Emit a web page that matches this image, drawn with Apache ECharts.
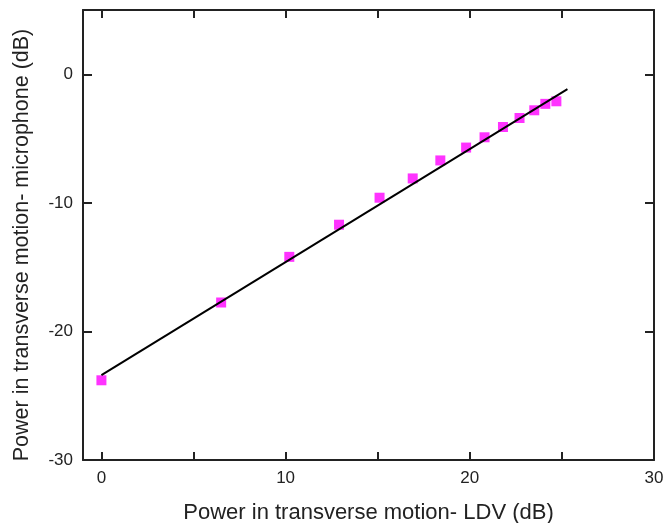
<!DOCTYPE html>
<html>
<head>
<meta charset="utf-8">
<script src="https://cdn.jsdelivr.net/npm/echarts@6/dist/echarts.min.js"></script>
</head>
<body style="margin:0">
<div id="main" style="width:665px;height:523px"></div>
<script>
// measured points (LDV dB, microphone dB)
var ldv = [0, 6.5, 10.2, 12.9, 15.1, 16.9, 18.4, 19.8, 20.8, 21.8, 22.7, 23.5, 24.1, 24.7];
var mic = [-23.8, -17.75, -14.2, -11.7, -9.6, -8.1, -6.7, -5.7, -4.9, -4.1, -3.4, -2.8, -2.3, -2.1];
// linear fit end points
var fitX = [0, 25.3];
var fitY = [-23.4, -1.16];
var xTicks = [0, 5, 10, 15, 20, 25, 30];
var xLabels = [0, 10, 20, 30];
var yTicks = [-30, -20, -10, 0];

var pts = ldv.map(function (v, i) { return [v, mic[i]]; });
var fit = fitX.map(function (v, i) { return [v, fitY[i]]; });

var chart = echarts.init(document.getElementById('main'));
var lineStyle = { color: '#222', width: 2 };
var font = 'Liberation Sans';

chart.setOption({
  animation: false,
  grid: { left: 83, right: 11, top: 10, bottom: 63, containLabel: false, outerBoundsMode: 'none' },
  xAxis: [{
    type: 'value', min: -1, max: 30,
    name: 'Power in transverse motion- LDV (dB)',
    nameLocation: 'middle', nameGap: 42,
    nameTextStyle: { fontSize: 22, color: '#222', fontFamily: font },
    axisLine: { onZero: false, lineStyle: lineStyle },
    axisTick: { inside: true, length: 8, lineStyle: lineStyle, customValues: xTicks },
    axisLabel: { customValues: xLabels, fontSize: 17, color: '#222', margin: 10, fontFamily: font },
    splitLine: { show: false }
  }, {
    type: 'value', min: -1, max: 30, position: 'top',
    axisLine: { onZero: false, lineStyle: lineStyle },
    axisTick: { inside: true, length: 8, lineStyle: lineStyle, customValues: xTicks },
    axisLabel: { show: false },
    splitLine: { show: false }
  }],
  yAxis: [{
    type: 'value', min: -30, max: 5,
    name: 'Power in transverse motion- microphone (dB)',
    nameLocation: 'middle', nameGap: 50,
    nameTextStyle: { fontSize: 21.5, color: '#222', fontFamily: font, padding: [0, 20, 0, 0] },
    axisLine: { onZero: false, lineStyle: lineStyle },
    axisTick: { inside: true, length: 9, lineStyle: lineStyle, customValues: yTicks },
    axisLabel: { customValues: yTicks, fontSize: 17, color: '#222', margin: 10, fontFamily: font },
    splitLine: { show: false }
  }, {
    type: 'value', min: -30, max: 5, position: 'right',
    axisLine: { onZero: false, lineStyle: lineStyle },
    axisTick: { inside: true, length: 9, lineStyle: lineStyle, customValues: yTicks },
    axisLabel: { show: false },
    splitLine: { show: false }
  }],
  series: [{
    type: 'line',
    data: fit,
    showSymbol: false,
    lineStyle: { color: '#000', width: 2 },
    z: 3
  }, {
    type: 'scatter',
    data: pts,
    symbol: 'rect',
    symbolSize: 10,
    itemStyle: { color: '#ff00ff' },
    z: 2
  }]
});
</script>
</body>
</html>
